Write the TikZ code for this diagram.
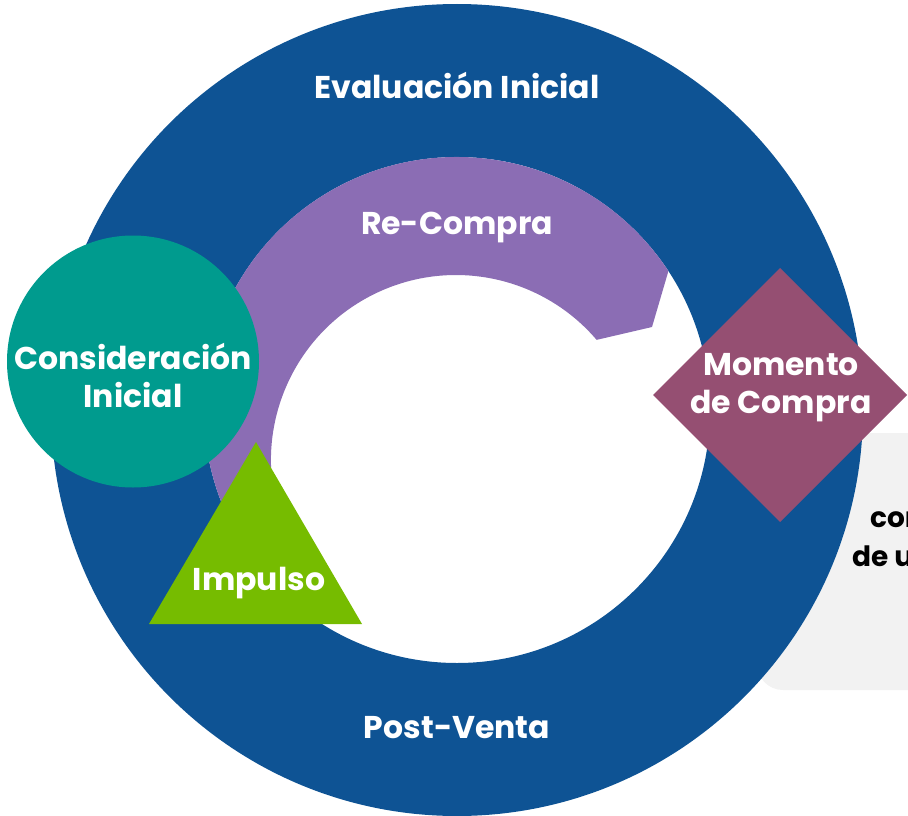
\documentclass[tikz,border=0pt]{standalone}
\usepackage{fontspec}
\setmainfont{Poppins}
\definecolor{ringblue}{HTML}{0E5394}
\definecolor{rcpurple}{HTML}{8B6DB4}
\definecolor{cteal}{HTML}{009B8E}
\definecolor{igreen}{HTML}{76BC00}
\definecolor{mplum}{HTML}{954F72}
\definecolor{boxgray}{HTML}{F2F2F2}
\tikzset{
  lbl/.style={text=white, font=\bfseries\fontsize{31.5}{38}\selectfont, align=center, inner sep=0pt},
  boxtxt/.style={text=black, font=\bfseries\fontsize{28}{36}\selectfont, anchor=west, inner sep=0pt}
}
\begin{document}
\begin{tikzpicture}[x=1pt,y=1pt]
\useasboundingbox (0,0) rectangle (908,-816);
\clip (0,0) rectangle (908,-816);
% gray box behind the ring
\fill[boxgray, rounded corners=26pt] (757,-433) rectangle (980,-690);
\node[boxtxt] (t1) at (870,-520) {con};
\node[boxtxt] (t2) at (852,-556) {de un};
% blue ring
\fill[ringblue, even odd rule] (457,-410) circle (406) (457,-410) circle (253);
% purple circular arrow
\fill[rcpurple] (668.4,-271.1) arc[start angle=33.3, end angle=205, radius=253]
  -- (288.3,-538.2) arc[start angle=205, end angle=40.5, radius=185]
  -- (652,-327) -- cycle;
% teal circle
\fill[cteal] (133,-361.5) circle (126);
% green triangle
\fill[igreen] (256,-442) -- (362,-624) -- (149,-624) -- cycle;
% plum diamond
\fill[mplum] (780,-268) -- (907,-395) -- (780,-522) -- (653,-395) -- cycle;
% labels
\node[lbl] (eval) at (457,-85) {Evaluación Inicial};
\node[lbl] (recompra) at (457,-228) {Re-Compra};
\node[lbl] (post) at (457,-728) {Post-Venta};
\node[lbl] (consid) at (133,-375) {Consideración\\Inicial};
\node[lbl] (impulso) at (259,-583) {Impulso};
\node[lbl] (momento) at (781,-388) {Momento\\de Compra};
\end{tikzpicture}
\end{document}
